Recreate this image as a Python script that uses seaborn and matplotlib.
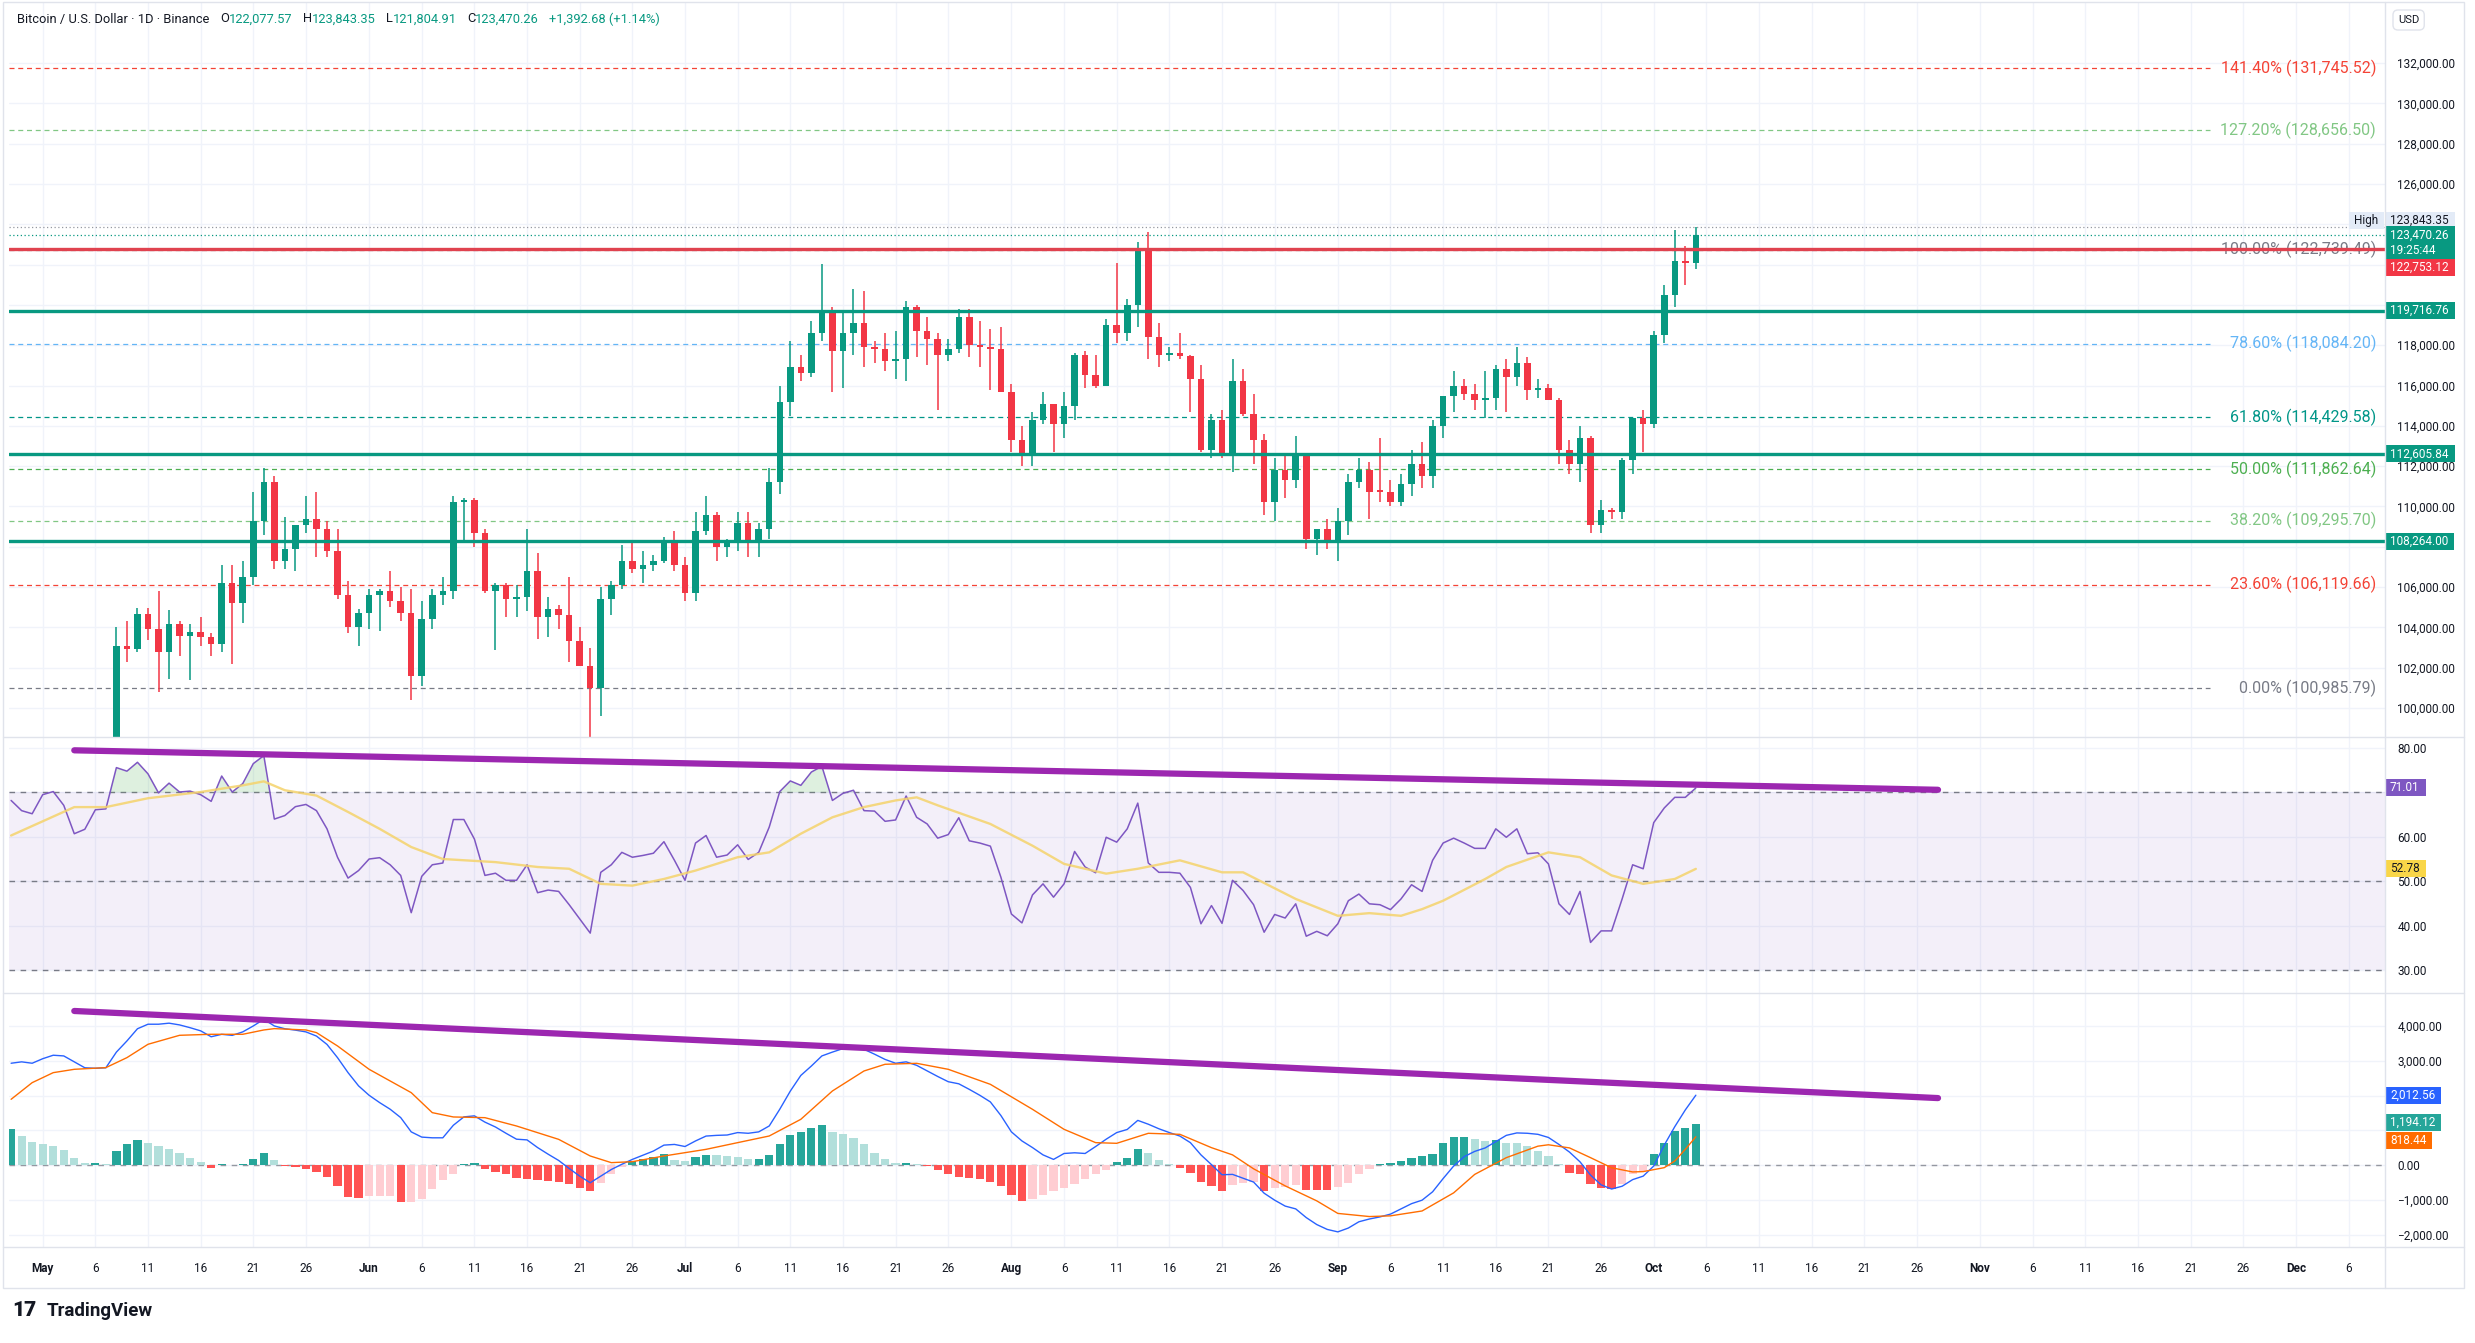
import numpy as np
import pandas as pd
import matplotlib
matplotlib.use("Agg")
import matplotlib.pyplot as plt
import matplotlib.dates as mdates
import matplotlib.transforms as mtrans
from matplotlib.lines import Line2D
from matplotlib.patches import Rectangle
from matplotlib.ticker import FuncFormatter
import seaborn as sns

sns.set_theme(style="white")
plt.rcParams["font.family"] = ["Roboto", "DejaVu Sans"]

# ---------------- data ----------------
# daily BTC/USD candles, 2025-05-08 .. 2025-10-05
candle_start = "2025-05-08"
opens = [
    97030, 103100, 102950, 104650, 103900, 102800, 104150, 103550, 103750, 103500, 103150, 106200,
    105200, 106500, 109300, 111200, 107300, 107900, 109100, 109400, 108900, 107800, 105600, 104000,
    104700, 105600, 105800, 105300, 104700, 101600, 104400, 105600, 105800, 110200, 110300, 108700,
    105800, 106100, 105400, 105500, 106800, 104500, 104900, 104600, 103300, 102100, 101000, 105400,
    106100, 107300, 106900, 107100, 107300, 108300,
    107100, 105700, 108800, 109600, 108000, 108200, 109200, 108200, 108900, 111200, 115200, 116900,
    116600, 118600, 119700, 117700, 118600, 119100, 117900, 117800, 117200, 117300, 119900, 118700,
    118300, 117500, 117800, 119400, 118000, 117900, 117800,
    115700, 113300, 112600, 114300, 115100, 114100, 115000, 117500, 116500, 116000, 119000, 118600,
    120000, 122700, 118400, 117500, 117600, 117450, 116300, 112800, 114300, 112500, 116200, 114600,
    113300, 110200, 111800, 111300, 112500, 108400, 108900,
    108200, 109300, 111200, 111800, 110800, 110700, 110200, 111100, 112100, 111500, 114000, 115500,
    116000, 115600, 115300, 115400, 116800, 116400, 117100, 115800, 115900, 115300, 112800, 112100,
    113400, 109100, 109800, 109700, 112300, 114400,
    114100, 118500, 120500, 122200, 122077.57]
highs = [
    104000, 104300, 104950, 104980, 105800, 104850, 104300, 104150, 104500, 103700, 107100, 107100,
    107300, 110700, 111900, 111500, 109500, 109100, 110500, 110700, 109300, 108900, 106300, 104900,
    105900, 105900, 106800, 106000, 105900, 105300, 105900, 106500, 110500, 110400, 110400, 108900,
    106200, 106200, 106100, 108900, 107700, 105500, 105100, 106500, 104000, 103000, 106000, 106300,
    108100, 108200, 107800, 107600, 108500, 108800,
    107500, 109700, 110500, 109700, 108400, 109700, 109700, 109200, 111900, 116000, 118200, 117500,
    119200, 122050, 119900, 119600, 120800, 120700, 118200, 118600, 118700, 120200, 120000, 119400,
    118600, 118300, 119800, 119800, 119200, 118800, 118900,
    116100, 114000, 114700, 115700, 115100, 115700, 117600, 117700, 117500, 119300, 122100, 120300,
    123100, 123600, 119100, 117900, 118600, 117500, 117000, 114600, 114800, 117300, 116800, 115600,
    113600, 112400, 112600, 113500, 112600, 108900, 109400,
    109900, 111600, 112400, 112200, 113400, 111300, 111600, 112800, 113200, 114300, 115500, 116700,
    116300, 116100, 116700, 117000, 117300, 117900, 117400, 116300, 116100, 115400, 113300, 114000,
    113500, 110300, 109900, 112400, 114400, 114800,
    118700, 121000, 123700, 122900, 123843.35]
lows = [
    96900, 102300, 102800, 103350, 100800, 101450, 102600, 101400, 103100, 102600, 102800, 102200,
    104200, 106100, 108600, 106900, 106900, 106800, 108700, 107500, 107500, 105400, 103700, 103100,
    103900, 103800, 105000, 104300, 100400, 101100, 103900, 105100, 105400, 108300, 108000, 105700,
    102900, 104500, 104500, 104800, 103400, 103500, 103900, 102300, 102100, 98300, 99600, 104600,
    105900, 106700, 106200, 106800, 107200, 106800,
    105300, 105300, 108600, 107300, 107500, 107800, 107500, 107500, 108400, 110600, 114500, 116200,
    116400, 118200, 115700, 115900, 117500, 116900, 117100, 116700, 116300, 116200, 117400, 117000,
    114800, 117200, 117600, 117400, 116900, 115800, 115700,
    112700, 112000, 112000, 114100, 112700, 113400, 114300, 115900, 115900, 116000, 118100, 118200,
    118900, 117300, 116900, 117200, 117300, 114700, 112700, 112400, 112400, 111700, 114500, 112100,
    109600, 109300, 110400, 110900, 107900, 107600, 107900,
    107300, 108600, 110900, 109400, 110200, 110000, 110000, 110500, 110900, 110900, 113400, 114700,
    115300, 114800, 114400, 114800, 114700, 116000, 115300, 115400, 115300, 112100, 111600, 111200,
    108700, 108700, 109400, 109400, 111600, 112700,
    113900, 118100, 119900, 121000, 121804.91]
closes = [
    103100, 102950, 104650, 103900, 102800, 104150, 103550, 103750, 103500, 103150, 106200, 105200,
    106500, 109300, 111200, 107300, 107900, 109100, 109400, 108900, 107800, 105600, 104000, 104700,
    105600, 105800, 105300, 104700, 101600, 104400, 105600, 105800, 110200, 110300, 108700, 105800,
    106100, 105400, 105500, 106800, 104500, 104900, 104600, 103300, 102100, 101000, 105400, 106100,
    107300, 106900, 107100, 107300, 108300, 107100,
    105700, 108800, 109600, 108000, 108200, 109200, 108200, 108900, 111200, 115200, 116900, 116600,
    118600, 119700, 117700, 118600, 119100, 117900, 117800, 117200, 117300, 119900, 118700, 118300,
    117500, 117800, 119400, 118000, 117900, 117800, 115700,
    113300, 112600, 114300, 115100, 114100, 115000, 117500, 116500, 116000, 119000, 118600, 120000,
    122700, 118400, 117500, 117600, 117450, 116300, 112800, 114300, 112500, 116200, 114600, 113300,
    110200, 111800, 111300, 112500, 108400, 108900, 108200,
    109300, 111200, 111800, 110700, 110700, 110200, 111100, 112100, 111500, 114000, 115500, 116000,
    115600, 115300, 115400, 116800, 116400, 117100, 115800, 115900, 115300, 112800, 112100, 113400,
    109100, 109800, 109700, 112300, 114400, 114100,
    118500, 120500, 122200, 122077.57, 123470.26]
change_text = "+1,392.68 (+1.14%)"
countdown = "19:25:44"

# indicators, daily from 2025-04-28
ind_start = "2025-04-28"
rsi_vals = [
    68.2, 65.9, 65.2, 69.5, 70.2, 67.1, 60.7, 61.7, 66.1, 66.3,
    75.6, 74.8, 76.8, 74.2, 69.9, 72.1, 70.1, 70.3, 69.5, 68.0,
    73.7, 70.1, 72.0, 76.5, 78.3, 64.0, 64.8, 66.8, 67.3, 65.9,
    61.8, 55.4, 50.7, 52.4, 55.0, 55.3, 53.7, 51.3, 42.9, 51.1,
    53.7, 54.1, 63.9, 63.9, 59.5, 51.3, 51.8, 50.2, 50.2, 53.7,
    47.4, 48.0, 47.7, 44.7, 41.5, 38.3, 52.0, 53.7, 56.5, 55.4,
    55.8, 56.3, 58.9, 54.7, 50.2, 58.6, 60.3, 55.4, 55.9, 58.2,
    54.9, 56.5, 62.2, 70.2, 72.6, 71.6, 74.6, 75.9, 68.2, 69.8,
    70.5, 65.9, 65.8, 63.5, 63.8, 69.2, 64.4, 62.9, 59.7, 60.5,
    64.3, 59.1, 58.6, 57.9, 50.9, 42.6, 40.6, 46.9, 49.4, 46.4,
    49.4, 56.7, 53.2, 51.9, 59.9, 58.8, 61.8, 67.6, 54.1, 52.0,
    52.0, 51.8, 48.6, 40.4, 44.5, 40.5, 50.2, 47.9, 44.7, 38.5,
    42.5, 41.7, 44.9, 37.6, 38.7, 37.7, 40.4, 45.6, 47.1, 44.9,
    44.7, 43.6, 46.0, 49.2, 47.7, 54.7, 58.6, 59.7, 58.6, 57.4,
    57.4, 61.8, 59.9, 61.8, 56.2, 56.4, 53.9, 44.9, 42.5, 47.7,
    36.2, 38.8, 38.8, 46.0, 53.7, 52.8, 63.2, 66.5, 68.9, 68.9,
    71.01]
macd_vals = [
    2930, 2970, 2930, 3060, 3160, 3140, 2970, 2800, 2785, 2800,
    3250, 3570, 3920, 4050, 4050, 4080, 4030, 3950, 3860, 3690,
    3760, 3730, 3830, 4000, 4190, 4000, 3920, 3880, 3830, 3710,
    3470, 3090, 2660, 2280, 2010, 1800, 1610, 1370, 960, 810,
    790, 790, 1150, 1390, 1420, 1240, 1100, 920, 750, 730,
    510, 320, 140, -90, -310, -500, -310, -120, 30, 170,
    290, 410, 580, 600, 540, 700, 840, 860, 870, 940,
    920, 960, 1130, 1610, 2130, 2580, 2850, 3140, 3250, 3350,
    3400, 3330, 3190, 3040, 2930, 2970, 2870, 2710, 2550, 2400,
    2340, 2180, 2010, 1820, 1430, 960, 700, 510, 300, 170,
    340, 360, 340, 540, 750, 940, 1030, 1290, 1180, 1050,
    940, 840, 650, 300, 20, -270, -260, -370, -480, -800,
    -1000, -1170, -1250, -1500, -1700, -1840, -1910, -1800, -1620, -1540,
    -1480, -1400, -1250, -1100, -1000, -760, -380, -20, 250, 400,
    500, 680, 860, 930, 920, 890, 800, 600, 380, 100,
    -280, -560, -680, -600, -410, -310, -20, 580, 1110, 1590,
    2012.56]
hist_vals = [
    1030, 840, 680, 620, 560, 450, 200, 70, 80, 40,
    410, 600, 720, 650, 560, 460, 360, 220, 100, -90,
    30, 10, 30, 170, 340, 150, -20, -40, -110, -190,
    -330, -590, -900, -950, -880, -880, -880, -1040, -1040, -960,
    -690, -420, -250, 30, 60, -110, -190, -260, -350, -380,
    -420, -450, -480, -530, -640, -740, -500, -260, -40, 120,
    190, 240, 320, 150, 120, 250, 300, 290, 270, 250,
    175, 175, 300, 600, 860, 960, 1060, 1150, 970, 890,
    790, 600, 360, 190, 60, 80, 30, -20, -140, -260,
    -340, -360, -400, -480, -590, -860, -1020, -980, -860, -740,
    -640, -550, -400, -260, -120, 100, 220, 480, 340, 150,
    30, -70, -210, -480, -600, -740, -560, -500, -480, -740,
    -660, -620, -560, -700, -710, -720, -620, -500, -250, -100,
    40, 70, 120, 220, 270, 320, 650, 800, 805, 770,
    700, 740, 650, 630, 550, 410, 270, 30, -210, -260,
    -540, -640, -690, -540, -260, -170, 320, 650, 990, 1080,
    1194.12]

# smoothed lines read as knots (days after 2025-05-01)
rsi_ma_day = [-3, 3, 6, 10, 15, 19, 21, 23, 26, 29, 32, 35, 38, 43, 47, 50, 53, 56, 59, 62,
              66, 69, 72, 75, 78, 81, 83, 85, 90, 94, 97, 101, 104, 108, 112, 114, 119, 123, 126, 129,
              131, 133, 137, 139, 143, 146, 149, 152, 155, 157]
rsi_ma_vals = [60.3, 66.7, 66.7, 68.7, 70.1, 71.6, 72.5, 70.5, 69.3, 65.6, 61.8, 57.7, 55.0, 54.3, 53.2,
               52.8, 49.4, 49.0, 50.5, 52.4, 55.4, 56.5, 60.7, 64.4, 66.7, 68.2, 68.9, 67.1, 62.9, 58.0,
               53.9, 51.7, 52.8, 54.7, 52.0, 52.0, 46.0, 42.2, 42.8, 42.2, 43.7, 45.6, 50.5, 53.2, 56.5,
               55.4, 51.3, 49.4, 50.5, 52.78]
signal_day = [-3, -1, 1, 3, 6, 8, 10, 13, 16, 19, 21, 22, 25, 26, 28, 31, 35, 37, 39, 42,
              45, 49, 52, 54, 56, 59, 63, 66, 69, 72, 75, 78, 80, 83, 86, 90, 94, 97, 100, 102,
              105, 108, 111, 113, 115, 118, 121, 123, 126, 128, 131, 134, 136, 139, 142, 143, 145, 147, 149, 151,
              152, 154, 155, 156, 157]
signal_vals = [1895, 2373, 2660, 2756, 2804, 3091, 3474, 3732, 3761, 3761, 3885, 3923, 3885, 3809, 3426,
               2756, 2086, 1512, 1388, 1368, 1129, 746, 268, 77, 105, 268, 459, 651, 842, 1321,
               2134, 2708, 2900, 2928, 2756, 2325, 1608, 1033, 651, 632, 919, 890, 507, 300, -100,
               -590, -1020, -1380, -1470, -1450, -1310, -790, -260, 220, 550, 590, 500, 220, -70, -190,
               -180, -67, 124, 459, 818.44]

fib_pct = [0.0, 23.6, 38.2, 50.0, 61.8, 78.6, 100.0, 127.2, 141.4]
fib_price = [100985.79, 106119.66, 109295.70, 111862.64, 114429.58, 118084.20, 122739.49, 128656.50, 131745.52]
fib_colors = ["#787B86", "#F44336", "#81C784", "#4CAF50", "#009688", "#64B5F6", "#787B86", "#81C784", "#F44336"]

level_prices = [122753.12, 119716.76, 112605.84, 108264.00]
level_colors = ["#E0424F", "#089981", "#089981", "#089981"]

rsi_trend_dates = ["2025-05-04", "2025-10-28"]
rsi_trend_vals = [79.5, 70.6]
macd_trend_dates = ["2025-05-04", "2025-10-28"]
macd_trend_vals = [4430, 1930]

months = ["May", "Jun", "Jul", "Aug", "Sep", "Oct", "Nov", "Dec"]

# ---------------- figure ----------------
W, H = 2475, 1343
fig = plt.figure(figsize=(W / 100, H / 100), dpi=100)
fig.patch.set_facecolor("white")
renderer = fig.canvas.get_renderer()


def frac_box(x0, y0, x1, y1):
    return [x0 / W, 1 - y1 / H, (x1 - x0) / W, (y1 - y0) / H]


ax_p = fig.add_axes(frac_box(9, 2, 2385, 737))
ax_r = fig.add_axes(frac_box(9, 737, 2385, 993))
ax_m = fig.add_axes(frac_box(9, 993, 2385, 1247))

UP, DN = "#089981", "#F23645"
TXT = "#131722"
may1 = mdates.date2num(pd.Timestamp("2025-05-01"))
xlim = (may1 - 3.2, may1 + 222.45)

tick_pos, tick_lab = [], []
for i, m in enumerate(months):
    for d in (1, 6, 11, 16, 21, 26):
        if m == "Dec" and d > 6:
            break
        tick_pos.append(mdates.date2num(pd.Timestamp(2025, 5 + i, d)))
        tick_lab.append(m if d == 1 else str(d))


def price_fmt(hidden):
    # labels that sit under a value tag on the scale are not shown
    return FuncFormatter(lambda v, p: "" if round(v) in hidden else f"{v:,.2f}".replace("-", "\u2212"))


# ---- price pane ----
cx = mdates.date2num(pd.date_range(candle_start, periods=len(closes), freq="D"))
o, hi, lo, c = (np.array(a, dtype=float) for a in (opens, highs, lows, closes))
col = np.where(c >= o, UP, DN)
ax_p.vlines(cx, lo, hi, colors=col, lw=1.1, zorder=3)
ax_p.bar(cx, np.maximum(np.abs(c - o), 60), bottom=np.minimum(o, c), width=0.62,
         color=col, lw=0, zorder=3)

fib_end = may1 + 205.8
for p, pct, fc in zip(fib_price, fib_pct, fib_colors):
    ax_p.hlines(p, xlim[0], fib_end, colors=fc, lw=0.9, linestyles=(0, (4, 3)), zorder=2)
    ax_p.text(may1 + 221.6, p, f"{pct:.2f}% ({p:,.2f})", color=fc, fontsize=11.5,
              ha="right", va="center", zorder=3)

for p, lc in zip(level_prices, level_colors):
    ax_p.axhline(p, color=lc, lw=2.4, zorder=4)

ax_p.axhline(highs[-1], color="#9598A1", lw=0.9, ls=(0, (1, 2)), zorder=2)
ax_p.axhline(closes[-1], color=UP, lw=0.9, ls=(0, (1, 2)), zorder=2)

ax_p.set_ylim(98560, 135030)
ax_p.set_yticks(np.arange(100000, 132001, 2000))
ax_p.yaxis.set_major_formatter(price_fmt({124000, 122000, 120000, 108000}))

# ---- RSI pane ----
rx = mdates.date2num(pd.date_range(ind_start, periods=len(rsi_vals), freq="D"))
rsi = np.array(rsi_vals)
ax_r.axhspan(30, 70, color="#7E57C2", alpha=0.09, lw=0, zorder=1)
for lv in (70, 50, 30):
    ax_r.axhline(lv, color="#787B86", lw=1, ls=(0, (4, 4)), zorder=2)
ax_r.fill_between(rx, 70, rsi, where=rsi > 70, interpolate=True, color="#4CAF50", alpha=0.18, lw=0, zorder=2)
sns.lineplot(x=rx, y=rsi, ax=ax_r, color="#7E57C2", lw=1.1, estimator=None, legend=False, zorder=3)
ma_x = may1 + np.array(rsi_ma_day, dtype=float)
sns.lineplot(x=ma_x, y=rsi_ma_vals, ax=ax_r, color="#F5D36B", alpha=0.85, lw=1.7, estimator=None,
             legend=False, zorder=3)
ax_r.plot(mdates.date2num(pd.to_datetime(rsi_trend_dates)), rsi_trend_vals, color="#9C27B0",
          lw=4.5, solid_capstyle="round", zorder=4)
ax_r.set_ylim(24.8, 82.5)
ax_r.set_yticks([30, 40, 50, 60, 70, 80])
ax_r.yaxis.set_major_formatter(price_fmt({70}))

# ---- MACD pane ----
hist = np.array(hist_vals)
prev = np.r_[hist[0], hist[:-1]]
hcol = np.where(hist >= 0, np.where(hist >= prev, "#26A69A", "#B2DFDB"),
                np.where(hist < prev, "#FF5252", "#FFCDD2"))
ax_m.axhline(0, color="#9598A1", lw=1, ls=(0, (4, 4)), zorder=1)
ax_m.bar(rx, hist, width=0.78, color=hcol, lw=0, zorder=2)
sns.lineplot(x=rx, y=macd_vals, ax=ax_m, color="#2962FF", lw=1.0, estimator=None, legend=False, zorder=3)
sig_x = may1 + np.array(signal_day, dtype=float)
sns.lineplot(x=sig_x, y=signal_vals, ax=ax_m, color="#FF6D00", lw=1.0, estimator=None, legend=False, zorder=3)
ax_m.plot(mdates.date2num(pd.to_datetime(macd_trend_dates)), macd_trend_vals, color="#9C27B0",
          lw=4.5, solid_capstyle="round", zorder=4)
ax_m.set_ylim(-2344, 4946)
ax_m.set_yticks(np.arange(-2000, 4001, 1000))
ax_m.yaxis.set_major_formatter(price_fmt({2000, 1000}))

# ---- common axis styling ----
for ax in (ax_p, ax_r, ax_m):
    ax.set_xlim(*xlim)
    ax.set_facecolor("white")
    for s in ax.spines.values():
        s.set_visible(False)
    ax.yaxis.tick_right()
    ax.tick_params(axis="y", length=0, pad=9, labelsize=8.5, labelcolor=TXT)
    ax.set_xticks(tick_pos)
    ax.tick_params(axis="x", length=0)
    ax.grid(True, color="#F0F3FA", lw=1)
    ax.set_axisbelow(True)
    ax.set_xlabel("")
    ax.set_ylabel("")
ax_p.tick_params(labelbottom=False)
ax_r.tick_params(labelbottom=False)
ax_m.set_xticklabels(tick_lab)
ax_m.tick_params(axis="x", labelsize=8.5, labelcolor=TXT, pad=11)
for t in ax_m.get_xticklabels():
    if t.get_text().isalpha():
        t.set_fontweight("bold")


# ---- value tags on the price scale: box fits the text, like TradingView ----
def tag(ax, y, s, fc, tc="white", lines=1, inside=False):
    axw = ax.get_position().width * W
    axh = ax.get_position().height * H
    y0, y1 = ax.get_ylim()
    dpp = (y1 - y0) / axh
    hpx = 17 * lines
    tr = mtrans.blended_transform_factory(ax.transAxes, ax.transData)
    t = ax.text(0, y, s, transform=tr, ha="left", va="center", fontsize=8.5,
                color=tc, clip_on=False, zorder=20, linespacing=1.2)
    wpx = t.get_window_extent(renderer=renderer).width + 11
    x0 = 1 - (wpx + 1) / axw if inside else 1.0
    t.set_x(x0 + 5 / axw)
    ax.add_patch(Rectangle((x0, y - hpx / 2 * dpp), wpx / axw, hpx * dpp, transform=tr, fc=fc,
                           ec="none", clip_on=False, zorder=19))


tag(ax_p, 124180, "High", "#E3EBF7", TXT, inside=True)
tag(ax_p, 124180, f"{highs[-1]:,.2f}", "#E3EBF7", TXT)
tag(ax_p, closes[-1] - 400, f"{closes[-1]:,.2f}\n{countdown}", UP, lines=2)
tag(ax_p, 121870, f"{level_prices[0]:,.2f}", DN)
for p in level_prices[1:]:
    tag(ax_p, p, f"{p:,.2f}", UP)
tag(ax_r, rsi_vals[-1], f"{rsi_vals[-1]:.2f}", "#7E57C2")
tag(ax_r, rsi_ma_vals[-1], f"{rsi_ma_vals[-1]:.2f}", "#F9D648", TXT)
tag(ax_m, macd_vals[-1], f"{macd_vals[-1]:,.2f}", "#2962FF")
tag(ax_m, hist_vals[-1] + 30, f"{hist_vals[-1]:,.2f}", "#26A69A")
tag(ax_m, signal_vals[-1] - 120, f"{signal_vals[-1]:,.2f}", "#FF6D00")

# ---- frame and separators ----
sep = "#E0E3EB"
fig.add_artist(Rectangle((3 / W, 1 - 1288 / H), 2461 / W, 1286 / H, transform=fig.transFigure,
                         fill=False, ec=sep, lw=1))
for yy in (737, 993, 1247):
    fig.add_artist(Line2D([3 / W, 2464 / W], [1 - yy / H] * 2, transform=fig.transFigure, color=sep, lw=1))
fig.add_artist(Line2D([2385 / W] * 2, [1 - 2 / H, 1 - 1288 / H], transform=fig.transFigure, color=sep, lw=1))

# ---- header legend ----
parts = [("Bitcoin / U.S. Dollar \u00b7 1D \u00b7 Binance", TXT, 11),
         ("O", TXT, 0), (f"{opens[-1]:,.2f}", UP, 10),
         ("H", TXT, 0), (f"{highs[-1]:,.2f}", UP, 10),
         ("L", TXT, 0), (f"{lows[-1]:,.2f}", UP, 10),
         ("C", TXT, 0), (f"{closes[-1]:,.2f}", UP, 10),
         (change_text, UP, 0)]
xp = 17
for s, cc, gap in parts:
    t = fig.text(xp / W, 1 - 19 / H, s, color=cc, fontsize=9.3, ha="left", va="center")
    xp += t.get_window_extent(renderer=renderer).width + gap

fig.text(2398 / W, 1 - 20 / H, "USD", fontsize=8, color=TXT, ha="left", va="center",
         bbox=dict(boxstyle="round,pad=0.45", fc="white", ec=sep))

# ---- watermark ----
fig.text(12 / W, 1 - 1311 / H, "17", fontsize=15, fontweight="heavy", color=TXT, ha="left", va="center")
fig.text(47 / W, 1 - 1311 / H, "TradingView", fontsize=13.5, fontweight="bold", color=TXT,
         ha="left", va="center")

fig.savefig("out.png", dpi=100, facecolor="white")
